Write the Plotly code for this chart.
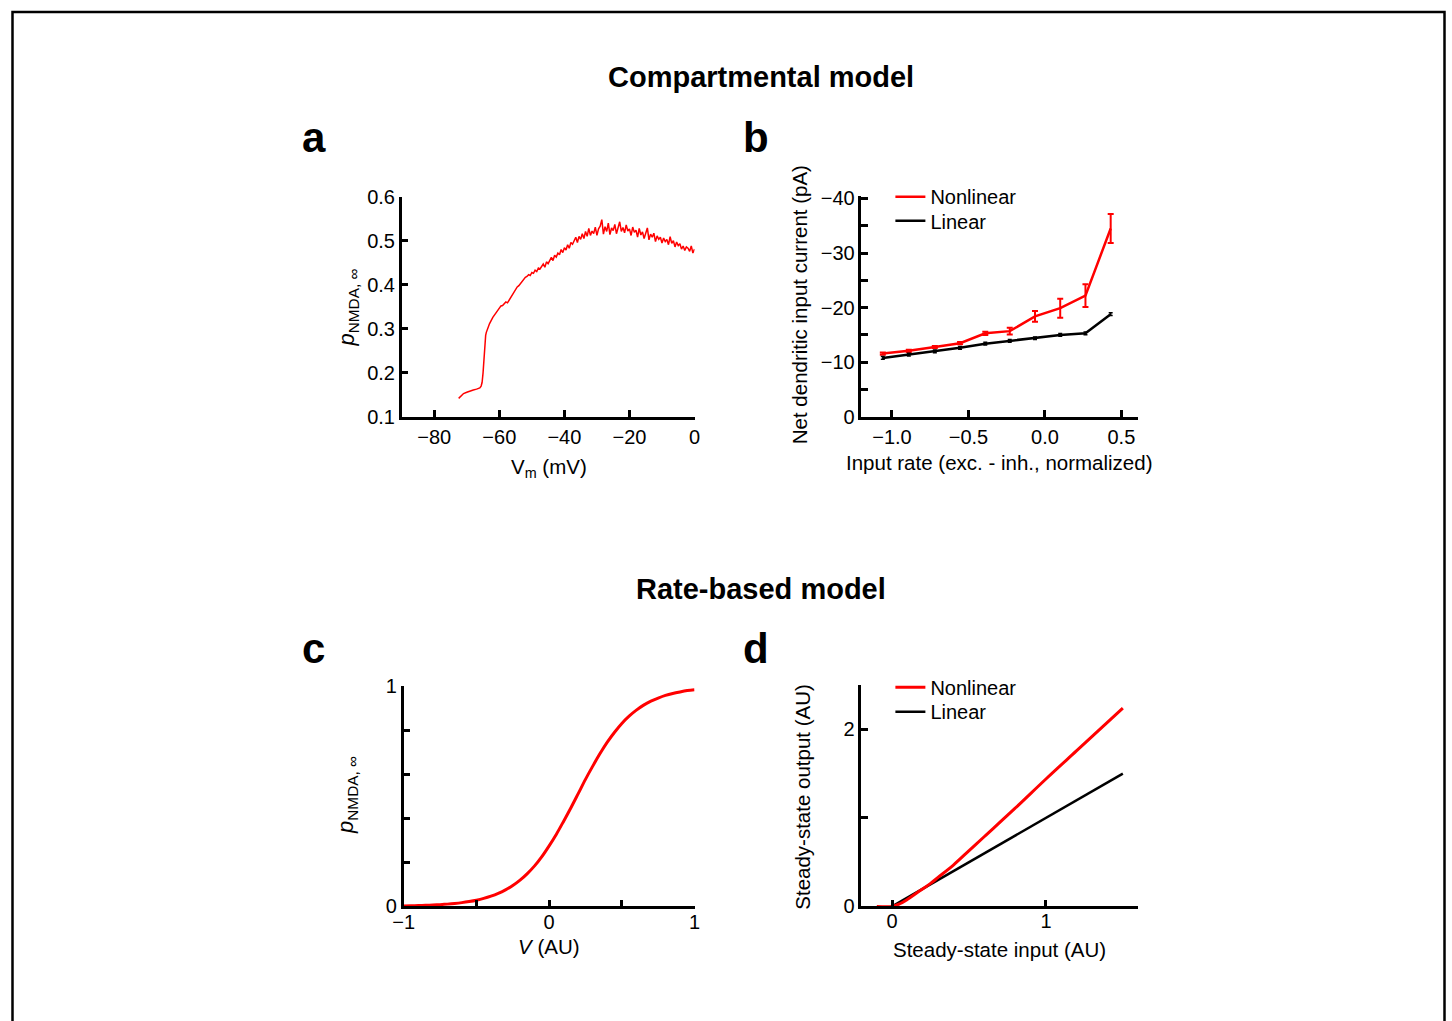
import plotly.graph_objects as go

W, H = 1452, 1021
# observed placement of the figure inside the captured window
OX, OY, FW, FH = 8.0, 11.5, 1436.0, 998.0
FONT = "Liberation Sans, Arial, Helvetica, sans-serif"
RED = "#ff0000"

# ---------------- Panel a: compartmental p_NMDA,inf vs Vm ----------------
a_vm = [-72.5, -72.0, -71.5, -71.0, -70.0, -69.0, -68.0, -67.0, -66.0, -65.6, -65.3,
        -65.0, -64.8, -64.6, -64.4, -64.2, -64.0, -63.5, -63.0, -62.0, -61.0, -60.5,
        -60.0, -59.5, -59.0, -58.5, -58.0, -57.5, -57.0, -56.5, -56.0, -55.5,
        -55.0, -54.5, -54.0, -53.5, -53.0, -52.5, -52.0, -51.5, -51.0, -50.5,
        -50.0, -49.5, -49.0, -48.5, -48.0, -47.5, -47.0, -46.5, -46.0, -45.5,
        -45.0, -44.5, -44.0, -43.5, -43.0, -42.5, -42.0, -41.5, -41.0, -40.5,
        -40.0, -39.5, -39.0, -38.5, -38.0, -37.5, -37.0, -36.5, -36.0, -35.5,
        -35.0, -34.5, -34.0, -33.5, -33.0, -32.5, -32.0, -31.5, -31.0, -30.5,
        -30.0, -29.5, -29.0, -28.5, -28.0, -27.5, -27.0, -26.5, -26.0, -25.5,
        -25.0, -24.5, -24.0, -23.5, -23.0, -22.5, -22.0, -21.5, -21.0, -20.5,
        -20.0, -19.5, -19.0, -18.5, -18.0, -17.5, -17.0, -16.5, -16.0, -15.5,
        -15.0, -14.5, -14.0, -13.5, -13.0, -12.5, -12.0, -11.5, -11.0, -10.5,
        -10.0, -9.5, -9.0, -8.5, -8.0, -7.5, -7.0, -6.5, -6.0, -5.5,
        -5.0, -4.5, -4.0, -3.5, -3.0, -2.5, -2.0, -1.5, -1.0, -0.5,
        0.0]
a_p = [0.142, 0.146, 0.150, 0.153, 0.156, 0.159, 0.161, 0.163, 0.166, 0.170, 0.178,
       0.200, 0.225, 0.255, 0.275, 0.285, 0.292, 0.303, 0.312, 0.326, 0.337, 0.343,
       0.348, 0.352, 0.353, 0.357, 0.361, 0.359, 0.365, 0.371, 0.377, 0.384,
       0.388, 0.395, 0.398, 0.403, 0.408, 0.412, 0.417, 0.419, 0.423, 0.421,
       0.428, 0.426, 0.433, 0.430, 0.438, 0.436, 0.441, 0.447, 0.440, 0.452,
       0.448, 0.455, 0.462, 0.455, 0.467, 0.463, 0.472, 0.468, 0.480, 0.473,
       0.484, 0.479, 0.491, 0.483, 0.496, 0.492, 0.499, 0.508, 0.496, 0.510,
       0.503, 0.516, 0.505, 0.521, 0.510, 0.528, 0.512, 0.522, 0.516, 0.531,
       0.512, 0.527, 0.533, 0.548, 0.515, 0.532, 0.521, 0.540, 0.514, 0.529,
       0.523, 0.537, 0.516, 0.528, 0.543, 0.521, 0.530, 0.518, 0.536, 0.522,
       0.527, 0.512, 0.531, 0.519, 0.524, 0.508, 0.528, 0.513, 0.520, 0.505,
       0.518, 0.529, 0.502, 0.515, 0.508, 0.517, 0.498, 0.511, 0.503, 0.508,
       0.495, 0.506, 0.498, 0.503, 0.491, 0.509, 0.494, 0.500, 0.486, 0.497,
       0.489, 0.493, 0.481, 0.488, 0.478, 0.486, 0.483, 0.476, 0.488, 0.472,
       0.481]
a_xticks = [-80, -60, -40, -20, 0]
a_xlabels = ["\u221280", "\u221260", "\u221240", "\u221220", "0"]
a_yticks = [0.1, 0.2, 0.3, 0.4, 0.5, 0.6]
a_ylabels = ["0.1", "0.2", "0.3", "0.4", "0.5", "0.6"]

# ---------------- Panel b: net dendritic input current ----------------
b_rate = [-1.06, -0.89, -0.72, -0.555, -0.39, -0.23, -0.065, 0.10, 0.265, 0.43]
b_nonlin = [-11.6, -12.1, -12.8, -13.5, -15.3, -15.7, -18.4, -19.9, -22.2, -34.5]
b_nonlin_err = [0.2, 0.2, 0.2, 0.2, 0.3, 0.6, 1.0, 1.75, 2.1, 2.65]
b_lin = [-10.8, -11.4, -12.0, -12.65, -13.4, -13.9, -14.4, -15.0, -15.3, -18.8]
b_lin_err = [0.25, 0.25, 0.25, 0.25, 0.25, 0.25, 0.25, 0.25, 0.25, 0.25]
b_xticks = [-1.0, -0.5, 0.0, 0.5]
b_xlabels = ["\u22121.0", "\u22120.5", "0.0", "0.5"]
b_yticks = [0, -5, -10, -15, -20, -25, -30, -35, -40]
b_ylabels = ["0", "", "\u221210", "", "\u221220", "", "\u221230", "", "\u221240"]

# ---------------- Panel c: rate-based p_NMDA,inf vs V ----------------
c_v = [-1.00, -0.95, -0.90, -0.85, -0.80, -0.75, -0.70, -0.65, -0.60, -0.55, -0.50,
       -0.45, -0.40, -0.35, -0.30, -0.25, -0.20, -0.15, -0.10, -0.05, 0.00, 0.05,
       0.10, 0.15, 0.20, 0.25, 0.30, 0.35, 0.40, 0.45, 0.50, 0.55, 0.60, 0.65, 0.70,
       0.75, 0.80, 0.85, 0.90, 0.95, 1.00]
c_p = [0.0022, 0.0029, 0.0037, 0.0048, 0.0062, 0.0080, 0.0103, 0.0133, 0.0171, 0.0221,
       0.0282, 0.0362, 0.0463, 0.0590, 0.0751, 0.0945, 0.119, 0.149, 0.184, 0.226, 0.275,
       0.328, 0.387, 0.448, 0.512, 0.577, 0.637, 0.694, 0.746, 0.791, 0.831, 0.864, 0.891,
       0.914, 0.932, 0.946, 0.958, 0.967, 0.974, 0.980, 0.984]
c_xticks = [-1, -0.5, 0, 0.5, 1]
c_xlabels = ["\u22121", "", "0", "", "1"]
c_yticks = [0, 0.2, 0.4, 0.6, 0.8, 1]
c_ylabels = ["0", "", "", "", "", "1"]

# ---------------- Panel d: steady-state input/output ----------------
d_in_nonlin = [-0.1, 0.0, 0.05, 0.1, 0.15, 0.2, 0.25, 0.3, 0.4, 0.5, 0.6, 0.8, 1.0, 1.2, 1.5]
d_out_nonlin = [0.0, 0.0, 0.03, 0.08, 0.14, 0.20, 0.26, 0.33, 0.47, 0.63, 0.79, 1.11, 1.44, 1.76, 2.24]
d_in_lin = [0.0, 1.5]
d_out_lin = [0.0, 1.5]
d_xticks = [0, 1]
d_xlabels = ["0", "1"]
d_yticks = [0, 1, 2]
d_ylabels = ["0", "", "2"]


def fx(px):
    return (px - OX) / FW


def fy(py):
    return 1 - (py - OY) / FH


def xd(px0, px1):
    return [fx(px0), fx(px1)]


def yd(py_top, py_bot):
    return [fy(py_bot), fy(py_top)]


fig = go.Figure()

fig.add_trace(go.Scatter(x=a_vm, y=a_p, mode="lines", line=dict(color=RED, width=1.5),
                         showlegend=False, xaxis="x", yaxis="y"))

fig.add_trace(go.Scatter(x=b_rate, y=b_nonlin, mode="lines", name="Nonlinear",
                         line=dict(color=RED, width=2.5),
                         error_y=dict(type="data", array=b_nonlin_err, color=RED,
                                      thickness=2, width=3),
                         xaxis="x2", yaxis="y2", legend="legend"))
fig.add_trace(go.Scatter(x=b_rate, y=b_lin, mode="lines", name="Linear",
                         line=dict(color="black", width=2.5),
                         error_y=dict(type="data", array=b_lin_err, color="black",
                                      thickness=1.5, width=2),
                         xaxis="x2", yaxis="y2", legend="legend2"))

fig.add_trace(go.Scatter(x=c_v, y=c_p, mode="lines", line=dict(color=RED, width=3, shape="spline"),
                         showlegend=False, xaxis="x3", yaxis="y3"))

fig.add_trace(go.Scatter(x=d_in_lin, y=d_out_lin, mode="lines", name="Linear",
                         line=dict(color="black", width=2.5),
                         xaxis="x4", yaxis="y4", legend="legend4"))
fig.add_trace(go.Scatter(x=d_in_nonlin, y=d_out_nonlin, mode="lines", name="Nonlinear",
                         line=dict(color=RED, width=3, shape="spline"),
                         xaxis="x4", yaxis="y4", legend="legend3"))


def ax(**kw):
    base = dict(showline=True, linewidth=2.5, linecolor="black", ticks="inside",
                ticklen=7, tickwidth=2.5, tickcolor="black", showgrid=False,
                zeroline=False, tickmode="array",
                tickfont=dict(family=FONT, size=20, color="black"))
    base.update(kw)
    return base


def leg(px_left, py_top):
    return dict(x=fx(px_left), y=fy(py_top), xanchor="left", yanchor="top",
                bgcolor="rgba(0,0,0,0)", font=dict(family=FONT, size=20, color="black"),
                itemwidth=30, tracegroupgap=0)


LEG_X = 888.0
fig.update_layout(
    width=W, height=H, autosize=False,
    margin=dict(l=0, r=0, t=0, b=0),
    paper_bgcolor="white", plot_bgcolor="white",
    font=dict(family=FONT, size=20, color="black"),
    xaxis=ax(domain=xd(399, 692), range=[-90, 0], tickvals=a_xticks, ticktext=a_xlabels, anchor="y"),
    yaxis=ax(domain=yd(197, 417), range=[0.1, 0.6], tickvals=a_yticks, ticktext=a_ylabels, anchor="x"),
    xaxis2=ax(domain=xd(859, 1136), range=[-1.2, 0.61], tickvals=b_xticks, ticktext=b_xlabels, anchor="y2"),
    yaxis2=ax(domain=yd(196, 417), range=[0, -40.5], tickvals=b_yticks, ticktext=b_ylabels, anchor="x2"),
    xaxis3=ax(domain=xd(401, 692), range=[-1, 1], tickvals=c_xticks, ticktext=c_xlabels, anchor="y3",
              ticklabelstandoff=-4),
    yaxis3=ax(domain=yd(686, 906), range=[0, 1], tickvals=c_yticks, ticktext=c_ylabels, anchor="x3"),
    xaxis4=ax(domain=xd(859, 1136), range=[-0.2, 1.6], tickvals=d_xticks, ticktext=d_xlabels, anchor="y4",
              ticklabelstandoff=-5),
    yaxis4=ax(domain=yd(685, 906), range=[0, 2.5], tickvals=d_yticks, ticktext=d_ylabels, anchor="x4"),
    legend=leg(LEG_X, 177.5),
    legend2=leg(LEG_X, 201.5),
    legend3=leg(LEG_X, 667.5),
    legend4=leg(LEG_X, 692.0),
)


def ann(text, px, py, size=20.5, angle=0, bold=False):
    fig.add_annotation(text=("<b>%s</b>" % text) if bold else text,
                       x=fx(px), y=fy(py), xref="paper", yref="paper",
                       xanchor="center", yanchor="middle", showarrow=False,
                       textangle=angle, font=dict(family=FONT, size=size, color="black"))


ann("Compartmental model", 759, 77, size=29, bold=True)
ann("Rate-based model", 759, 589, size=29, bold=True)
ann("a", 311, 138, size=42, bold=True)
ann("b", 754, 138, size=42, bold=True)
ann("c", 311, 648, size=42, bold=True)
ann("d", 754, 648, size=42, bold=True)

ann("V<sub>m</sub> (mV)", 546, 468)
ann("<i>p</i><sub>NMDA, \u221e</sub>", 345, 308, size=22, angle=-90)
ann("Net dendritic input current (pA)", 797, 305, angle=-90)
ann("Input rate (exc. - inh., normalized)", 997, 463)
ann("<i>V</i> (AU)", 546, 946)
ann("<i>p</i><sub>NMDA, \u221e</sub>", 345, 795, size=22, angle=-90)
ann("Steady-state input (AU)", 997, 949)
ann("Steady-state output (AU)", 800, 796, angle=-90)

# outer frame
fig.add_shape(type="rect", xref="paper", yref="paper",
              x0=fx(9.5), x1=fx(1442.5), y0=-0.05, y1=fy(12.5),
              line=dict(color="black", width=2.5), fillcolor="rgba(0,0,0,0)")

fig.write_html("out.html")
